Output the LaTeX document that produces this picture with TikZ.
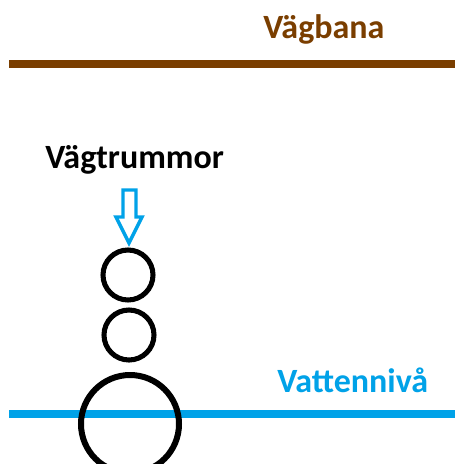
\documentclass[tikz,border=0pt]{standalone}
\usepackage{fontspec}
\setmainfont{Carlito}
\definecolor{roadbrown}{RGB}{122,62,0}
\definecolor{waterblue}{RGB}{0,162,232}
\begin{document}
\begin{tikzpicture}[x=0.75pt,y=-0.75pt,
  lbl/.style={font=\fontsize{25.5pt}{29pt}\selectfont\bfseries, inner sep=0pt, anchor=base west},
  pipe/.style={circle, draw=black, inner sep=0pt, outer sep=0pt, line width=3.8pt, minimum size=37.5pt},
  bigpipe/.style={pipe, line width=4.5pt, minimum size=73.5pt},
]
\useasboundingbox (0,0) rectangle (455,464);
\clip (0,0) rectangle (455,464);
\fill[white] (0,0) rectangle (455,464);
% road
\coordinate (r1) at (9,64);
\coordinate (r2) at (455,64);
\draw[roadbrown, line width=5.3pt] (r1) -- (r2);
\node[lbl, text=roadbrown] (vagbana) at (263,38) {Vägbana};
% water
\coordinate (w1) at (9,414);
\coordinate (w2) at (455,414);
\draw[waterblue, line width=5.3pt] (w1) -- (w2);
\node[lbl, text=waterblue] (vatten) at (277,392) {Vattennivå};
% culverts label
\node[lbl, text=black] (trummor) at (45,168) {Vägtrummor};
% hollow arrow
\draw[waterblue, line width=2.6pt, line join=miter]
  (123,190) -- (136,190) -- (136,217) -- (142,217) -- (129,243) -- (116,217) -- (123,217) -- cycle;
% pipes
\node[pipe] (c1) at (128,275) {};
\node[pipe] (c2) at (129,335) {};
\node[bigpipe] (c3) at (130,424) {};
\end{tikzpicture}
\end{document}
